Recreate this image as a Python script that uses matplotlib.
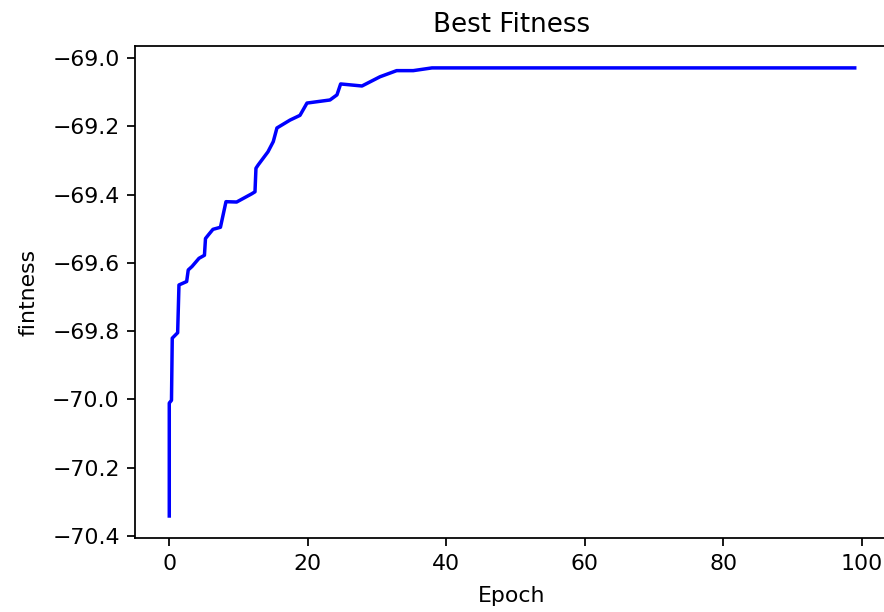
import matplotlib
matplotlib.use("Agg")
import matplotlib.pyplot as plt

# vertices of the best-fitness curve
epoch = [0, 0, 0.32, 0.43, 1.21, 1.40, 2.51, 2.74, 3.28, 4.29, 5.08, 5.23,
         5.66, 6.31, 7.39, 8.19, 9.73, 11.90, 12.38, 12.52, 12.85, 14.25,
         15.02, 15.55, 17.43, 18.88, 19.89, 23.21, 24.22, 24.75, 27.83,
         30.43, 32.84, 35.24, 37.94, 99]
fitness = [-70.342, -70.011, -70.003, -69.821, -69.805, -69.665, -69.655,
           -69.621, -69.611, -69.587, -69.578, -69.529, -69.518, -69.502,
           -69.496, -69.421, -69.422, -69.398, -69.392, -69.323, -69.313,
           -69.275, -69.245, -69.205, -69.182, -69.168, -69.132, -69.123,
           -69.108, -69.076, -69.082, -69.055, -69.037, -69.037, -69.029,
           -69.029]

W, H = 884, 612
fig = plt.figure(figsize=(W / 100, H / 100), dpi=100)
ax = fig.add_axes([135 / W, (H - 538.4) / H, 754 / W, (538.4 - 45.5) / H])

ax.plot(epoch, fitness, color="b", linewidth=2.5)

ax.set_title("Best Fitness", fontsize=18.8, pad=9.5)
ax.set_xlabel("Epoch", fontsize=15.8, labelpad=9)
ax.set_ylabel("fintness", fontsize=15.8, labelpad=10)
ax.set_xticks([0, 20, 40, 60, 80, 100])
ax.set_yticks([-70.4, -70.2, -70.0, -69.8, -69.6, -69.4, -69.2, -69.0])
ax.tick_params(labelsize=15.8, length=5.5, width=1.27, pad=5.5)
for s in ax.spines.values():
    s.set_linewidth(1.27)

fig.savefig("out.png", dpi=100)
